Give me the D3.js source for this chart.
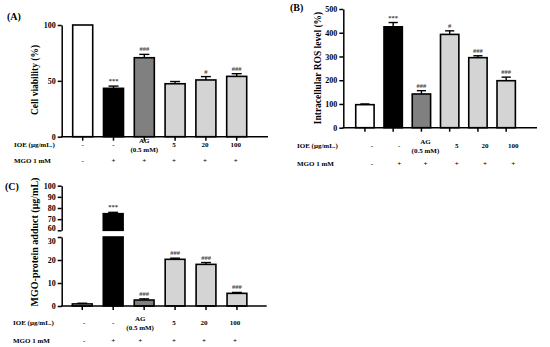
<!DOCTYPE html>
<html><head><meta charset="utf-8">
<script src="https://cdn.jsdelivr.net/npm/d3@7"></script>
<style>body{margin:0;background:#fff}svg{display:block}text{font-family:"Liberation Serif","Times New Roman",serif;font-weight:bold}</style>
</head><body><svg id="c" width="550" height="347"></svg>
<script>
const groups = ["-", "-", "AG|(0.5 mM)", "5", "20", "100"];
const mgo = ["-", "+", "+", "+", "+", "+"];
const barColors = ["#ffffff", "#000000", "#808080", "#d4d4d4", "#d4d4d4", "#d4d4d4"];

const viability = [100, 43.3, 70.7, 47.4, 50.8, 54];
const viabilityErr = [0, 2, 3, 2, 3, 2.4];
const viabilitySig = ["", "***", "###", "", "#", "###"];
const viabilityTicks = [0, 50, 100];

const ros = [97, 425, 142, 393, 295, 198];
const rosErr = [3, 18, 14, 15, 8, 15];
const rosSig = ["", "***", "###", "#", "###", "###"];
const rosTicks = [0, 100, 200, 300, 400, 500];

const adduct = [0.9, 74.9, 2.6, 20.3, 18.1, 5.5];
const adductErr = [0.3, 1.2, 0.5, 0.5, 0.8, 0.4];
const adductSig = ["", "***", "###", "###", "###", "###"];
const adductLowTicks = [0, 10, 20, 30];
const adductHighTicks = [60, 70, 80, 90, 100];

const svg = d3.select("#c");
const idx = d3.range(groups.length);

function panel(o) {
  const g = svg.append("g");
  const x = d3.scaleBand().domain(idx).range([o.x0, o.x1]).paddingInner(o.pi).paddingOuter(o.po);
  const bw = x.bandwidth();
  const segs = o.segs;
  const yv = v => {
    for (const s of segs) { const d = s.scale.domain(); if (v >= d[0] && v <= d[1]) return s.scale(v); }
    return segs[segs.length-1].scale(v);
  };
  idx.forEach(i => {
    const v = o.values[i];
    if (segs.length > 1 && v > segs[0].scale.domain()[1]) {
      const lo = segs[0].scale, hi = segs[1].scale;
      g.append("rect").attr("x", x(i)).attr("width", bw).attr("y", lo(lo.domain()[1])).attr("height", lo(0) - lo(lo.domain()[1]))
        .attr("fill", barColors[i]).attr("stroke", "#000").attr("stroke-width", 1.6);
      g.append("rect").attr("x", x(i)).attr("width", bw).attr("y", hi(v)).attr("height", hi(hi.domain()[0]) - hi(v))
        .attr("fill", barColors[i]).attr("stroke", "#000").attr("stroke-width", 1.6);
    } else {
      g.append("rect").attr("x", x(i)).attr("width", bw).attr("y", yv(v)).attr("height", yv(0) - yv(v))
        .attr("fill", barColors[i]).attr("stroke", "#000").attr("stroke-width", 1.6);
    }
    const e = o.errs[i];
    const cx = x(i) + bw / 2;
    if (e > 0) {
      g.append("line").attr("x1", cx).attr("x2", cx).attr("y1", yv(v)).attr("y2", yv(v + e)).attr("stroke", "#000").attr("stroke-width", 1.4);
      g.append("line").attr("x1", cx - bw / 4).attr("x2", cx + bw / 4).attr("y1", yv(v + e)).attr("y2", yv(v + e)).attr("stroke", "#000").attr("stroke-width", 1.4);
    }
    if (o.sig[i]) {
      g.append("text").attr("x", cx).attr("y", yv(v + e) - 3).attr("text-anchor", "middle").attr("font-size", 6.5).attr("fill", "#444").text(o.sig[i]);
    }
  });
  segs.forEach((s, si) => {
    const ax = g.append("g").attr("transform", `translate(${o.x0},0)`)
      .call(d3.axisLeft(s.scale).tickValues(s.ticks).tickSize(4).tickPadding(2).tickSizeOuter(0));
    ax.select(".domain").attr("stroke-width", 1.5);
    ax.selectAll(".tick line").attr("stroke-width", 1.5);
    ax.selectAll("text").attr("font-size", 8).attr("font-family", '"Liberation Serif",serif').attr("font-weight", "bold");
    if (segs.length > 1) {
      // nudge the labels next to the axis break apart
      ax.selectAll(".tick").filter(d => d === s.ticks[si === 0 ? s.ticks.length - 1 : 0])
        .select("text").attr("dy", si === 0 ? "0.85em" : "0.05em");
    }
  });
  const y0 = yv(0);
  g.append("line").attr("x1", o.x0 - 0.75).attr("x2", o.xEnd).attr("y1", y0).attr("y2", y0).attr("stroke", "#000").attr("stroke-width", 1.5);
  idx.forEach(i => {
    const cx = x(i) + bw / 2;
    g.append("line").attr("x1", cx).attr("x2", cx).attr("y1", y0).attr("y2", y0 + 4).attr("stroke", "#000").attr("stroke-width", 1.5);
  });
  g.append("text").attr("x", o.labX).attr("y", o.row1).attr("font-size", 7).text("IOE (μg/mL.)");
  g.append("text").attr("x", o.labX).attr("y", o.row2).attr("font-size", 7).text("MGO 1 mM");
  idx.forEach(i => {
    const cx = x(i) + bw / 2 + o.labOff[i];
    const parts = groups[i].split("|");
    if (parts.length > 1) {
      g.append("text").attr("x", cx).attr("y", o.row1 - 4).attr("text-anchor", "middle").attr("font-size", 7).text(parts[0]);
      g.append("text").attr("x", cx).attr("y", o.row1 + 4.5).attr("text-anchor", "middle").attr("font-size", 7).text(parts[1]);
    } else {
      g.append("text").attr("x", cx).attr("y", o.row1).attr("text-anchor", "middle").attr("font-size", 7).text(parts[0]);
    }
    g.append("text").attr("x", cx).attr("y", o.row2).attr("text-anchor", "middle").attr("font-size", 7).text(mgo[i]);
  });
  g.append("text").attr("transform", `translate(${o.titleX},${o.titleY}) rotate(-90)`).attr("text-anchor", "middle").attr("font-size", o.titleSize).text(o.title);
  g.append("text").attr("x", o.pX).attr("y", o.pY).attr("font-size", 10).text(o.pLabel);
}

panel({
  x0: 61.7, x1: 257.7, xEnd: 268, pi: 0.35, po: 0.357,
  segs: [{scale: d3.scaleLinear().domain([0, 100]).range([136.7, 25]), ticks: viabilityTicks}],
  values: viability, errs: viabilityErr, sig: viabilitySig,
  labX: 14, row1: 147, row2: 163, labOff: [0, 0, 0, -1, -1, -1],
  title: "Cell viability (%)", titleX: 38, titleY: 80, titleSize: 9.5,
  pLabel: "(A)", pX: 7, pY: 20
});
panel({
  x0: 343.3, x1: 527.8, xEnd: 537, pi: 0.35, po: 0.44,
  segs: [{scale: d3.scaleLinear().domain([0, 500]).range([127.7, 9]), ticks: rosTicks}],
  values: ros, errs: rosErr, sig: rosSig,
  labX: 297, row1: 148, row2: 166, labOff: [7, 6, 4, 7, 7, 7],
  title: "Intracellular ROS level (%)", titleX: 321, titleY: 68, titleSize: 9.5,
  pLabel: "(B)", pX: 290, pY: 11
});
panel({
  x0: 61.7, x1: 257.5, xEnd: 266.7, pi: 0.36, po: 0.344,
  segs: [{scale: d3.scaleLinear().domain([0, 30]).range([306, 237]), ticks: adductLowTicks},
         {scale: d3.scaleLinear().domain([60, 100]).range([230.3, 185.7]), ticks: adductHighTicks}],
  values: adduct, errs: adductErr, sig: adductSig,
  labX: 13, row1: 325, row2: 343, labOff: [2, 0, -4, -1, -2, -2],
  title: "MGO-protein adduct (μg/mL)", titleX: 38, titleY: 242, titleSize: 10,
  pLabel: "(C)", pX: 5, pY: 190
});
</script></body></html>
